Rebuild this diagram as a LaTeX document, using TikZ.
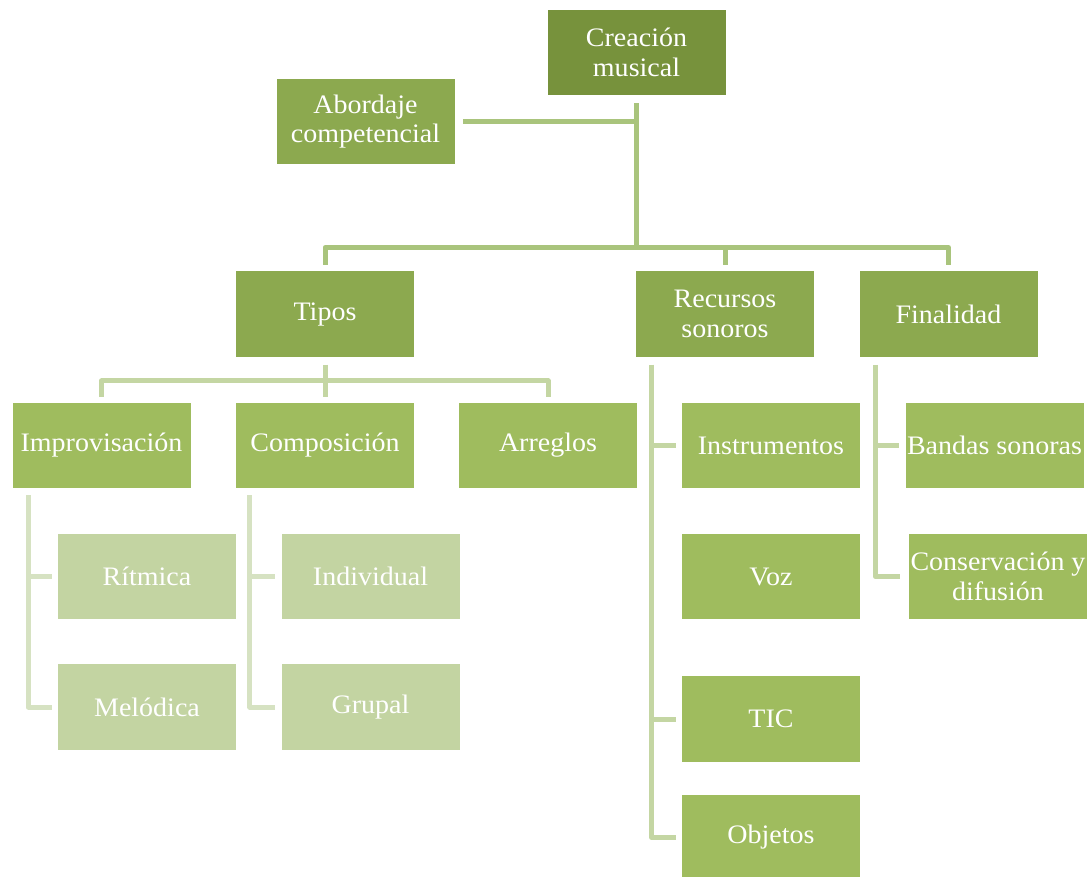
\documentclass[tikz,border=0pt]{standalone}
\usepackage{fontspec}
\setmainfont{Liberation Serif}[FakeStretch=1.05]
\usepackage{tikz}
\usetikzlibrary{calc, positioning}
\definecolor{topGreen}{HTML}{77923C}
\definecolor{midGreen}{HTML}{8CA94F}
\definecolor{leafGreen}{HTML}{9FBC5E}
\definecolor{paleGreen}{HTML}{C3D4A2}
\definecolor{lineTop}{HTML}{A9C47C}
\definecolor{lineMid}{HTML}{C4D6A3}
\definecolor{linePale}{HTML}{D6E2C2}

\begin{document}
\begin{tikzpicture}[x=0.75pt, y=-0.75pt,
    box/.style={minimum width=133.5pt, minimum height=64pt, inner sep=0pt,
        align=center, text=white, font=\fontsize{20}{22}\selectfont},
    conn/.style={line width=3.75pt, line join=round, shorten <=6pt, shorten >=4.5pt}]
        % marco
        \useasboundingbox (0,0) rectangle (1087,876);

        % raiz y segundo nivel
        \node[box, fill=topGreen] (creacion) at (636.5,52.5) {Creación\\musical};
        \node[box, fill=midGreen] (abordaje) at (365.5,121.5) {Abordaje\\competencial};
        \node[box, fill=midGreen] (tipos) at (325,314) {Tipos};
        \node[box, fill=midGreen] (recursos) at (725,314) {Recursos\\sonoros};
        \node[box, fill=midGreen] (finalidad) at (948.5,314) {Finalidad};

        % tercer nivel
        \node[box, fill=leafGreen] (improv) at (101.5,445.5) {Improvisación};
        \node[box, fill=leafGreen] (compos) at (325,445.5) {Composición};
        \node[box, fill=leafGreen] (arreglos) at (548,445.5) {Arreglos};
        \node[box, fill=leafGreen] (instrum) at (771,445.5) {Instrumentos};
        \node[box, fill=leafGreen] (voz) at (771,576.5) {Voz};
        \node[box, fill=leafGreen] (tic) at (771,719) {TIC};
        \node[box, fill=leafGreen] (objetos) at (771,837.5) {Objetos};
        \node[box, fill=leafGreen] (bandas) at (994.5,445.5) {Bandas sonoras};
        \node[box, fill=leafGreen] (conserv) at (998,576.5) {Conservación y\\difusión};

        % cuarto nivel
        \node[box, fill=paleGreen] (ritmica) at (147,576.5) {Rítmica};
        \node[box, fill=paleGreen] (melodica) at (147,707) {Melódica};
        \node[box, fill=paleGreen] (individual) at (370.5,576.5) {Individual};
        \node[box, fill=paleGreen] (grupal) at (370.5,707) {Grupal};

        % conectores del nivel superior
        \draw[conn, lineTop] (creacion.south) -- ++(0,152) -| (tipos.north);
        \draw[conn, lineTop] (creacion.south) -- ++(0,152) -| (recursos.north);
        \draw[conn, lineTop] (creacion.south) -- ++(0,152) -| (finalidad.north);
        \draw[conn, lineTop, shorten >=0pt] (abordaje.east) -- (abordaje.east -| creacion.south);

        % conectores de Tipos
        \draw[conn, lineMid] (tipos.south) -- ++(0,24) -| (improv.north);
        \draw[conn, lineMid] (tipos.south) -- ++(0,24) -| (compos.north);
        \draw[conn, lineMid] (tipos.south) -- ++(0,24) -| (arreglos.north);

        % ramas laterales
        \draw[conn, linePale, shorten <=0pt] ([xshift=12pt, yshift=-5pt]improv.south west) |- (ritmica.west);
        \draw[conn, linePale, shorten <=0pt] ([xshift=12pt, yshift=-5pt]improv.south west) |- (melodica.west);
        \draw[conn, linePale, shorten <=0pt] ([xshift=10.5pt, yshift=-5pt]compos.south west) |- (individual.west);
        \draw[conn, linePale, shorten <=0pt] ([xshift=10.5pt, yshift=-5pt]compos.south west) |- (grupal.west);
        \draw[conn, lineMid, shorten <=0pt] ([xshift=12pt, yshift=-6pt]recursos.south west) |- (instrum.west);
        \draw[conn, lineMid, shorten <=0pt] ([xshift=12pt, yshift=-6pt]recursos.south west) |- (tic.west);
        \draw[conn, lineMid, shorten <=0pt] ([xshift=12pt, yshift=-6pt]recursos.south west) |- (objetos.west);
        \draw[conn, lineMid, shorten <=0pt] ([xshift=12pt, yshift=-6pt]finalidad.south west) |- (bandas.west);
        \draw[conn, lineMid, shorten <=0pt, shorten >=6.75pt] ([xshift=12pt, yshift=-6pt]finalidad.south west) |- (conserv.west);
    \end{tikzpicture}
\end{document}
